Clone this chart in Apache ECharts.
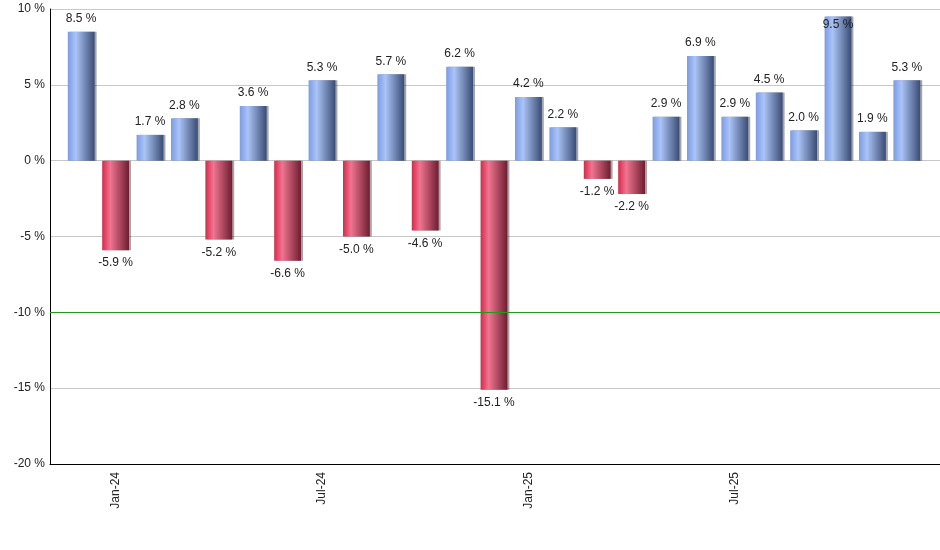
<!DOCTYPE html>
<html><head><meta charset="utf-8">
<script src="https://cdn.jsdelivr.net/npm/echarts@6/dist/echarts.min.js"></script>
<style>html,body{margin:0;padding:0;background:#fff}#c{width:940px;height:550px}</style>
</head><body><div id="c"></div>
<script>
const categories = ["Dec-23","Jan-24","Feb-24","Mar-24","Apr-24","May-24","Jun-24","Jul-24","Aug-24","Sep-24","Oct-24","Nov-24","Dec-24","Jan-25","Feb-25","Mar-25","Apr-25","May-25","Jun-25","Jul-25","Aug-25","Sep-25","Oct-25","Nov-25","Dec-25"];
const values = [8.5,-5.9,1.7,2.8,-5.2,3.6,-6.6,5.3,-5.0,5.7,-4.6,6.2,-15.1,4.2,2.2,-1.2,-2.2,2.9,6.9,2.9,4.5,2.0,9.5,1.9,5.3];
const yTicks = [-20,-15,-10,-5,0,5,10];
const thresholdLine = -10;
const shownLabels = ["Jan-24","Jul-24","Jan-25","Jul-25"];

const blueGrad = new echarts.graphic.LinearGradient(0,0,1,0,[
  {offset:0,color:'#7a9ce6'},{offset:0.3,color:'#abc4f6'},{offset:1,color:'#3a4c74'}]);
const redGrad = new echarts.graphic.LinearGradient(0,0,1,0,[
  {offset:0,color:'#d8284b'},{offset:0.3,color:'#ef7590'},{offset:1,color:'#6c1e31'}]);

const data = values.map(v => {
  const item = {value: v, itemStyle: {color: v >= 0 ? blueGrad : redGrad}};
  if (v >= 9.5) item.label = {position: 'insideTop', distance: 2};
  return item;
});

const yMin = yTicks[0], yMax = yTicks[yTicks.length-1];
const font = {color: '#222', fontFamily: 'Liberation Sans, Arial', fontSize: 12};

const chart = echarts.init(document.getElementById('c'), null, {renderer:'canvas'});
chart.setOption({
  animation: false,
  grid: [
    {left: 50, right: 0, top: 9, bottom: 86},
    {left: 64, right: 16, top: 9, bottom: 86}
  ],
  xAxis: [
    {type: 'value', gridIndex: 0, min: 0, max: 1,
      axisLine: {show: true, onZero: false, lineStyle: {color: '#000'}},
      axisTick: {show: false}, axisLabel: {show: false}, splitLine: {show: false}},
    {type: 'category', gridIndex: 1, data: categories,
      axisLine: {show: false},
      axisTick: {alignWithLabel: true, length: 5, lineStyle: {color: '#000'},
        interval: (i, name) => shownLabels.includes(name)},
      axisLabel: Object.assign({rotate: 90, margin: 8,
        interval: (i, name) => shownLabels.includes(name)}, font)}
  ],
  yAxis: [
    {type: 'value', gridIndex: 0, min: yMin, max: yMax, interval: 5,
      axisLine: {show: true, lineStyle: {color: '#000'}},
      axisTick: {show: false},
      axisLabel: Object.assign({formatter: v => v + ' %', margin: 5}, font),
      splitLine: {lineStyle: {color: '#c8c8c8', width: 1}}},
    {type: 'value', gridIndex: 1, min: yMin, max: yMax, interval: 5, show: false,
      splitLine: {show: false}}
  ],
  series: [
    {type: 'line', xAxisIndex: 0, yAxisIndex: 0, data: [], silent: true,
      markLine: {silent: true, symbol: 'none', label: {show: false},
        lineStyle: {color: '#1f9a1f', width: 1, type: 'solid'},
        data: [{yAxis: thresholdLine}]}},
    {type: 'bar', xAxisIndex: 1, yAxisIndex: 1, data: data, barWidth: '78%',
      itemStyle: {shadowColor: 'rgba(0,0,0,0.35)', shadowOffsetX: 2, shadowBlur: 0},
      label: Object.assign({show: true, position: 'outside', distance: 7,
        formatter: p => p.value.toFixed(1) + ' %'}, font),
      labelLayout: {hideOverlap: false}}
  ]
});
</script></body></html>
